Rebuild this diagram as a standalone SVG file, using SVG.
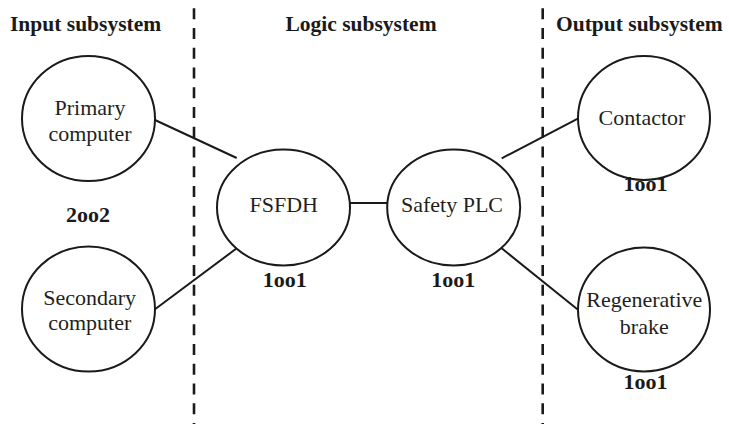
<svg xmlns="http://www.w3.org/2000/svg" width="729" height="424" viewBox="0 0 729 424">
<style>
.node{fill:#fff;stroke:#1a1a1a;stroke-width:2}
.lbl{font-family:"Liberation Serif","Times New Roman",serif;font-size:22px;fill:#231f20;text-anchor:middle}
.b{font-family:"Liberation Serif","Times New Roman",serif;font-size:22px;font-weight:bold;fill:#1a1a1a;text-anchor:middle}
.hdr{font-family:"Liberation Serif","Times New Roman",serif;font-size:21.5px;font-weight:bold;fill:#1a1a1a}
.dash{stroke:#1a1a1a;stroke-width:2.6;stroke-dasharray:11 8.75;fill:none}
.con{stroke:#1a1a1a;stroke-width:2;fill:none}
</style>
<rect width="729" height="424" fill="#fff"/>
<g id="dividers">
<line class="dash" x1="194" y1="8.3" x2="194" y2="424"/>
<line class="dash" x1="542.7" y1="8.3" x2="542.7" y2="424"/>
</g>
<g id="headers">
<text class="hdr" x="10" y="31">Input subsystem</text>
<text class="hdr" x="361" y="31" text-anchor="middle">Logic subsystem</text>
<text class="hdr" x="556" y="31">Output subsystem</text>
</g>
<g id="connectors">
<line class="con" x1="155" y1="120" x2="236.7" y2="158"/>
<line class="con" x1="155" y1="309.3" x2="236.7" y2="248.3"/>
<line class="con" x1="350" y1="203" x2="387.3" y2="203"/>
<line class="con" x1="501.7" y1="158.3" x2="578.3" y2="118.3"/>
<line class="con" x1="501.7" y1="248.3" x2="578.3" y2="310"/>
</g>
<g id="primary">
<ellipse class="node" cx="88.5" cy="118.5" rx="66.5" ry="62.5"/>
<text class="lbl" x="90" y="115">Primary</text>
<text class="lbl" x="90" y="140.7">computer</text>
</g>
<g id="secondary">
<ellipse class="node" cx="88.5" cy="309" rx="66.5" ry="62.5"/>
<text class="lbl" x="89.7" y="304.5">Secondary</text>
<text class="lbl" x="89.7" y="330">computer</text>
</g>
<g id="input-vote">
<text class="b" x="88" y="221.5">2oo2</text>
</g>
<g id="fsfdh">
<ellipse class="node" cx="283.5" cy="207.5" rx="66.5" ry="58"/>
<text class="lbl" x="283.7" y="211.7">FSFDH</text>
<text class="b" x="284.7" y="287">1oo1</text>
</g>
<g id="plc">
<ellipse class="node" cx="453.7" cy="207.5" rx="66.5" ry="58"/>
<text class="lbl" x="452" y="211.7">Safety PLC</text>
<text class="b" x="453.3" y="287">1oo1</text>
</g>
<g id="contactor">
<ellipse class="node" cx="644" cy="118" rx="66" ry="62"/>
<text class="lbl" x="642" y="125">Contactor</text>
<text class="b" x="645.5" y="191">1oo1</text>
</g>
<g id="regen">
<ellipse class="node" cx="644" cy="309.5" rx="66" ry="62"/>
<text class="lbl" x="644.3" y="306.7">Regenerative</text>
<text class="lbl" x="644.3" y="334">brake</text>
<text class="b" x="645.5" y="389">1oo1</text>
</g>
</svg>
